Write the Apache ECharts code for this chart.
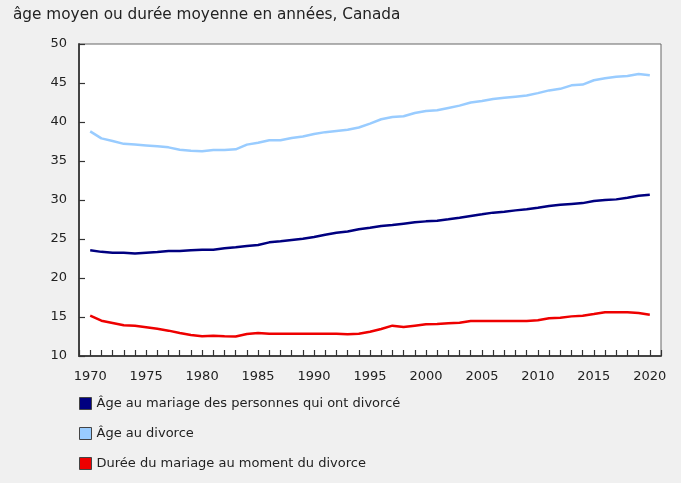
<!DOCTYPE html>
<html><head><meta charset="utf-8">
<script src="https://cdn.jsdelivr.net/npm/echarts@6/dist/echarts.min.js"></script>
<style>html,body{margin:0;padding:0;background:#f0f0f0}#c{width:681px;height:483px}</style>
</head><body><div id="c"></div>
<script>
const title = "âge moyen ou durée moyenne en années, Canada";
const years = [];
for (let y = 1970; y <= 2020; y++) years.push(y);
const seriesNames = ["Âge au mariage des personnes qui ont divorcé", "Âge au divorce", "Durée du mariage au moment du divorce"];
const ageMariage = [23.55,23.35,23.25,23.25,23.15,23.25,23.33,23.45,23.45,23.55,23.63,23.63,23.8,23.93,24.1,24.23,24.57,24.7,24.87,25.04,25.25,25.55,25.8,25.95,26.25,26.45,26.67,26.8,26.97,27.14,27.26,27.35,27.52,27.73,27.95,28.16,28.38,28.5,28.67,28.8,29.0,29.23,29.4,29.5,29.6,29.87,30.0,30.08,30.3,30.55,30.68];
const ageDivorce = [38.8,37.9,37.56,37.2,37.1,37.0,36.9,36.75,36.45,36.3,36.25,36.4,36.4,36.5,37.1,37.35,37.65,37.65,37.95,38.15,38.45,38.7,38.85,39.0,39.3,39.8,40.35,40.65,40.73,41.15,41.4,41.5,41.8,42.1,42.5,42.7,42.95,43.1,43.25,43.4,43.7,44.05,44.25,44.7,44.8,45.35,45.6,45.8,45.9,46.15,46.0];
const dureeMariage = [15.17,14.53,14.23,13.93,13.89,13.7,13.5,13.25,12.95,12.7,12.52,12.6,12.52,12.5,12.82,12.95,12.86,12.86,12.86,12.86,12.86,12.86,12.86,12.78,12.86,13.1,13.46,13.89,13.72,13.89,14.06,14.1,14.19,14.27,14.49,14.49,14.49,14.49,14.49,14.49,14.57,14.83,14.91,15.08,15.17,15.38,15.6,15.6,15.6,15.5,15.3];
const colors = ["#000080", "#99ccff", "#ee0000"];
const values = [ageMariage, ageDivorce, dureeMariage];

const chart = echarts.init(document.getElementById('c'), null, {renderer: 'canvas'});
const font = "DejaVu Sans";
chart.setOption({
  backgroundColor: '#f0f0f0',
  animation: false,
  textStyle: {fontFamily: font},
  title: {text: title, left: 8, top: 3, textStyle: {fontFamily: font, fontSize: 15.3, fontWeight: 'normal', color: '#222'}},
  grid: {left: 79, right: 20, top: 44, bottom: 127, show: true, backgroundColor: '#ffffff', borderColor: '#666', borderWidth: 1, outerBoundsMode: 'none'},
  legend: {
    orient: 'vertical', left: 74, top: 392, itemWidth: 12, itemHeight: 12, itemGap: 17,
    icon: 'rect',
    textStyle: {fontFamily: font, fontSize: 13, color: '#222'},
    data: seriesNames.map((n, i) => ({name: n, itemStyle: {color: colors[i], borderColor: '#444', borderWidth: 1}}))
  },
  xAxis: {
    type: 'value', min: 1969, max: 2021, interval: 1, zlevel: 1,
    axisLine: {show: true, lineStyle: {color: '#444', width: 2}},
    axisTick: {show: true, inside: true, length: 6, lineStyle: {color: '#333', width: 1.2}},
    splitLine: {show: false},
    axisLabel: {fontFamily: font, fontSize: 13, color: '#222', margin: 14, formatter: v => (v % 5 === 0 ? String(v) : '')}
  },
  yAxis: {
    type: 'value', min: 10, max: 50, interval: 5, zlevel: 1,
    axisLine: {show: true, lineStyle: {color: '#444', width: 2}},
    axisTick: {show: true, inside: true, length: 6, lineStyle: {color: '#333', width: 1.2}},
    splitLine: {show: false},
    axisLabel: {fontFamily: font, fontSize: 13, color: '#222', margin: 12}
  },
  series: values.map((vals, i) => ({
    name: seriesNames[i], type: 'line', showSymbol: false, symbol: 'none',
    data: years.map((y, k) => [y, vals[k]]),
    lineStyle: {color: colors[i], width: 2.5},
    itemStyle: {color: colors[i]}
  }))
});
</script></body></html>
